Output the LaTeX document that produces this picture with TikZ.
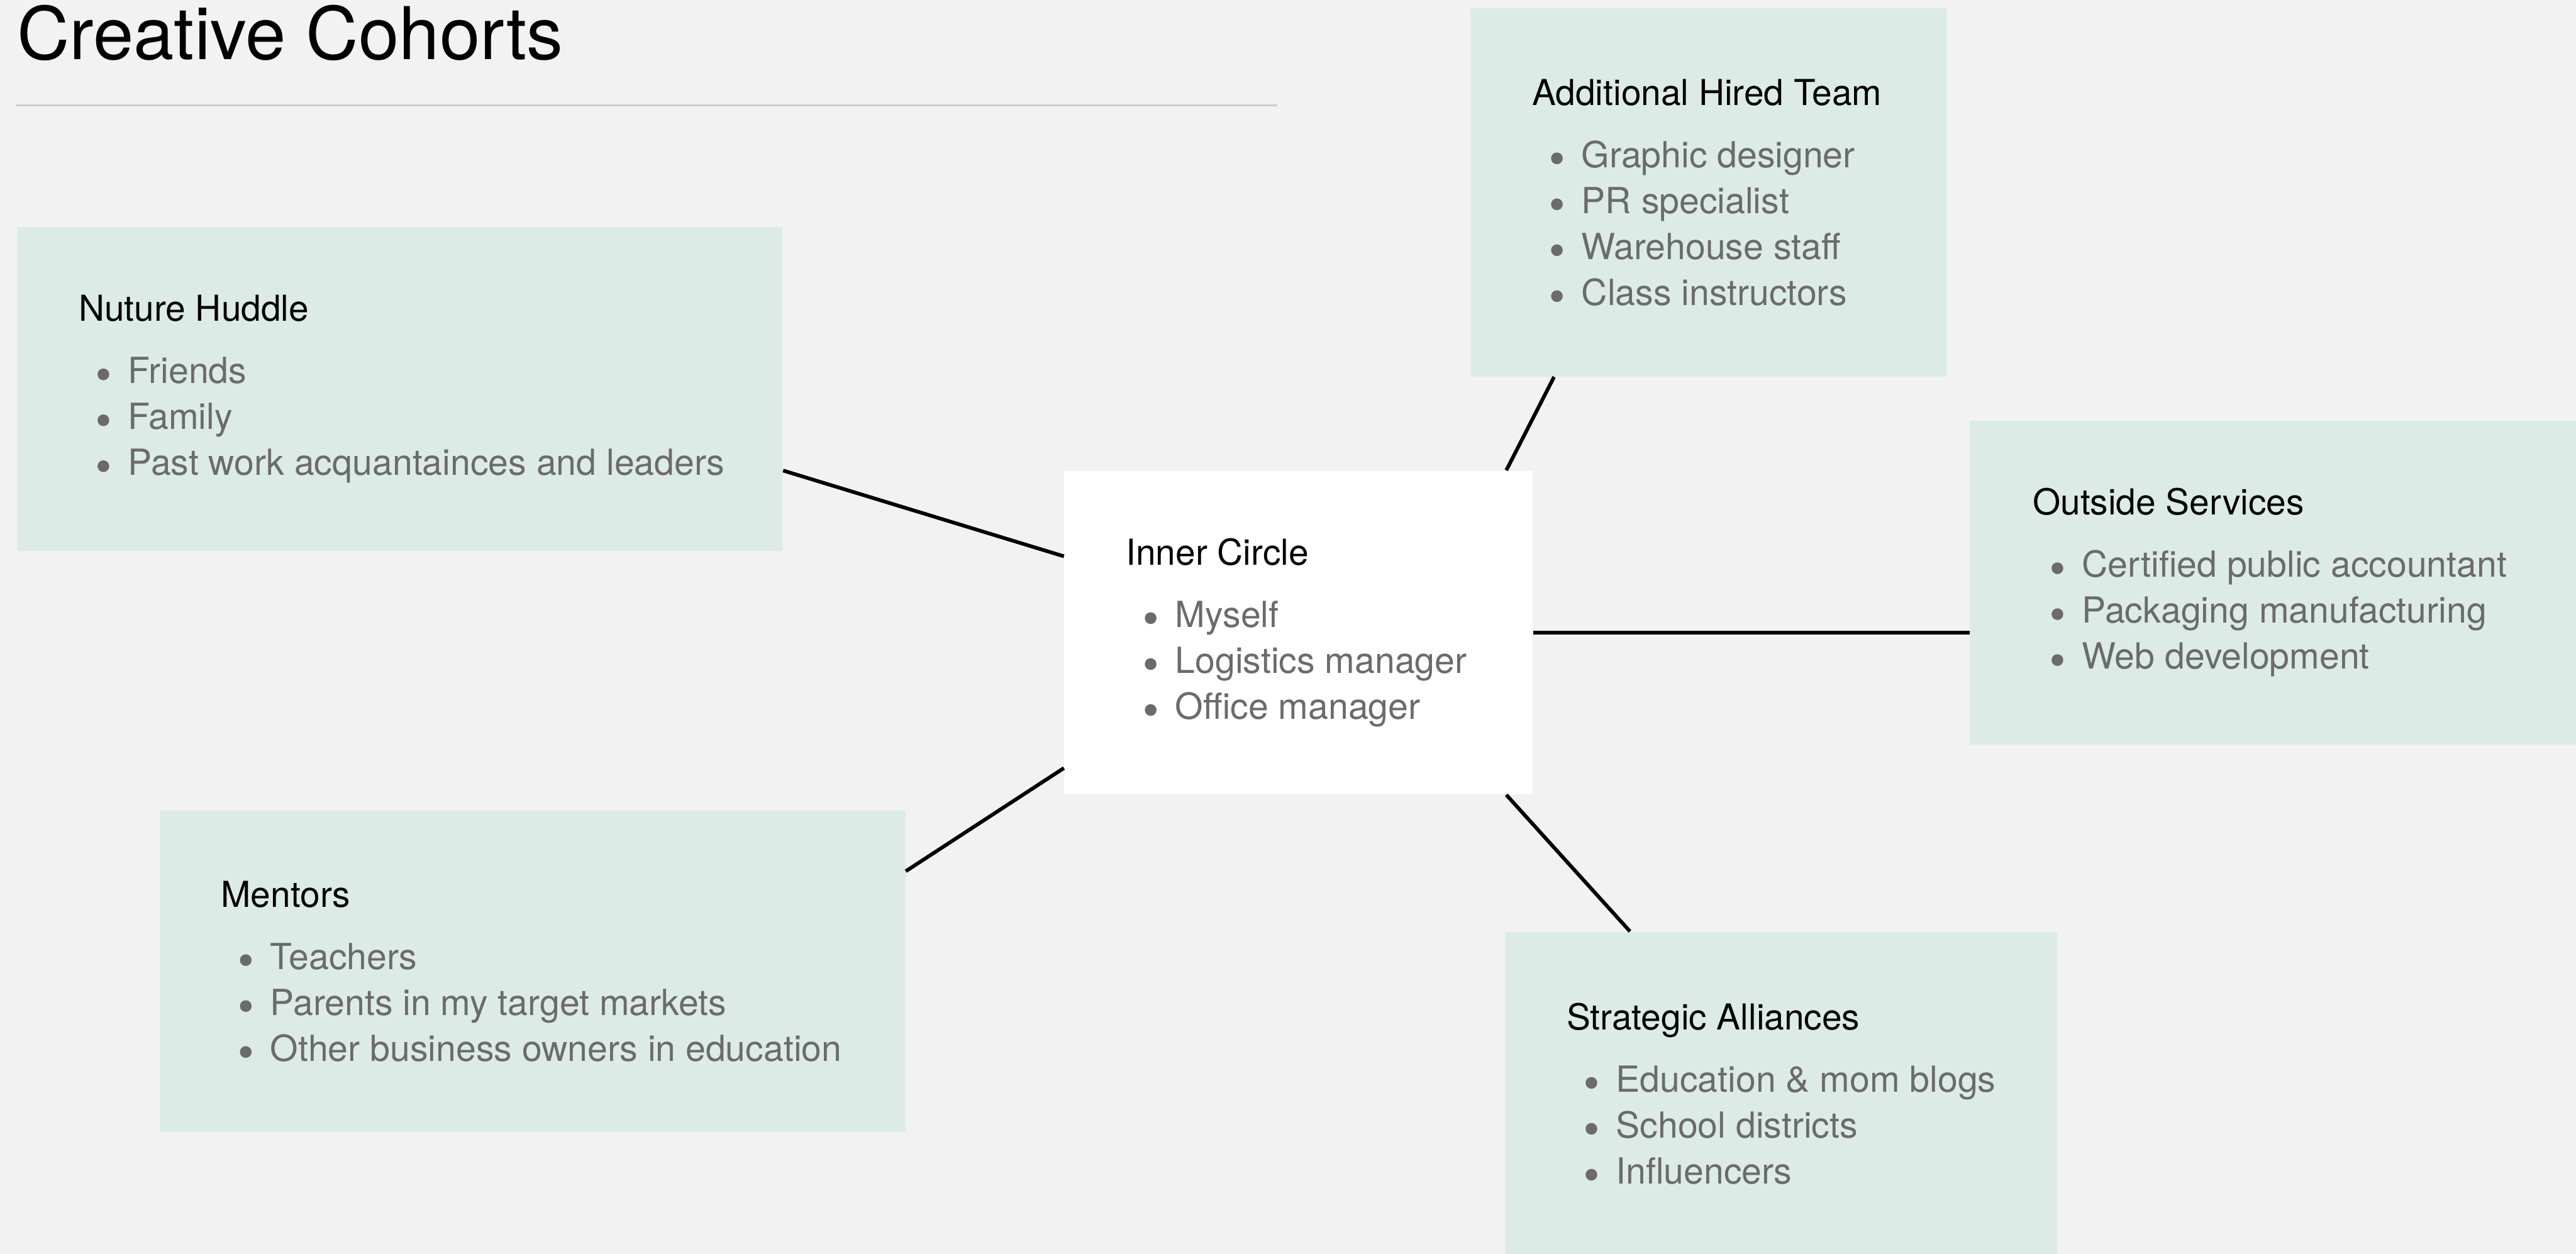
\documentclass[tikz,border=0pt]{standalone}
\usepackage{fontspec}
\setmainfont{TeX Gyre Heros}
\usetikzlibrary{positioning}
\definecolor{paper}{HTML}{F2F2F2}
\definecolor{sage}{HTML}{DDEBE7}
\definecolor{itemgray}{HTML}{6B6B6B}
\definecolor{rulegray}{HTML}{CCCCCC}
\begin{document}
\begin{tikzpicture}
\def\boxh{5.25cm}
\def\hdr#1{{\color{black}\fontsize{16.5}{21.2}\selectfont #1}\\[7.5pt]}
\def\dotmark{\tikz[baseline={(0,-0.146)}]\fill[itemgray] (0,0) circle (0.095);}
\def\itm#1{\hspace*{0.305cm}\makebox[0.495cm][l]{\dotmark}#1}
\tikzset{base/.style={inner sep=0pt,anchor=north west},
group/.style={base,fill=sage,minimum height=\boxh},
core/.style={base,fill=white,minimum height=\boxh},
list/.style={inner sep=0pt,align=left,text=itemgray,font=\fontsize{16.6}{21.2}\selectfont},
link/.style={draw=black,line width=1.7pt}}
\useasboundingbox (0,0) rectangle (41.79,-20.34);
\fill[paper] (0,0) rectangle (41.79,-20.34);
% title and rule
\node[anchor=base west,inner sep=0pt,font=\fontsize{33.6}{40}\selectfont] (title) at (0.27,-0.96) {Creative Cohorts};
\draw[rulegray,line width=0.77pt] (0.25,-1.71) -- (20.72,-1.71);
% boxes
\node[core,minimum width=7.60cm] (IC) at (17.26,-7.63) {};
\node[group,minimum width=12.42cm] (NH) at (0.27,-3.68) {};
\node[group,minimum width=7.73cm,minimum height=5.97cm] (AHT) at (23.85,-0.13) {};
\node[group,minimum width=9.90cm] (OS) at (31.95,-6.82) {};
\node[group,minimum width=12.10cm,minimum height=5.22cm] (MEN) at (2.58,-13.14) {};
\node[group,minimum width=8.96cm] (SA) at (24.41,-15.11) {};
% lists
\node[list,right=1cm of IC.west] (ICtxt) {\hdr{Inner Circle}\itm{Myself}\\\itm{Logistics manager}\\\itm{Office manager}};
\node[list,right=1cm of NH.west] (NHtxt) {\hdr{Nuture Huddle}\itm{Friends}\\\itm{Family}\\\itm{Past work acquantainces and leaders}};
\node[list,right=1cm of AHT.west] (AHTtxt) {\hdr{Additional Hired Team}\itm{Graphic designer}\\\itm{PR specialist}\\\itm{Warehouse staff}\\\itm{Class instructors}};
\node[list,right=1.02cm of OS.west] (OStxt) {\hdr{Outside Services}\itm{Certified public accountant}\\\itm{Packaging manufacturing}\\\itm{Web development}};
\node[list,right=1cm of MEN.west] (MENtxt) {\hdr{Mentors}\itm{Teachers}\\\itm{Parents in my target markets}\\\itm{Other business owners in education}};
\node[list,right=1cm of SA.west] (SAtxt) {\hdr{Strategic Alliances}\itm{Education \& mom blogs}\\\itm{School districts}\\\itm{Influencers}};
% links to the centre
\path[link] (NH.-12.8) -- (IC.162.4);
\path[link] (AHT.230) -- (IC.38.4);
\path[link] (IC.east) -- (IC.east -| OS.west);
\path[link] (MEN.15.7) -- (IC.210.6);
\path[link] (SA.133.5) -- (IC.-38.8);
\end{tikzpicture}
\end{document}
